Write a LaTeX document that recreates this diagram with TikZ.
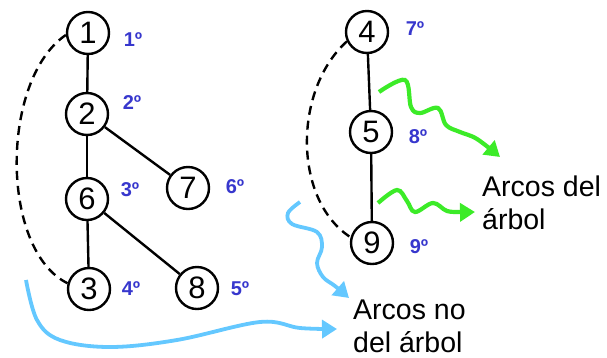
\documentclass[tikz,border=0pt]{standalone}
\usepackage{fontspec}
\setmainfont{Liberation Sans}
\usetikzlibrary{arrows.meta}
\definecolor{ordblue}{RGB}{55,55,205}
\definecolor{arcgreen}{RGB}{60,235,40}
\definecolor{arcblue}{RGB}{100,200,255}
\begin{document}
\begin{tikzpicture}[x=1pt,y=-1pt,
  vert/.style={circle,draw=black,line width=2.4pt,minimum size=42pt,inner sep=0pt,font=\fontsize{31}{31}\selectfont},
  ord/.style={text=ordblue,font=\fontsize{20}{20}\selectfont\bfseries,inner sep=0pt},
  tree/.style={line width=2.4pt},
  back/.style={line width=2.4pt,dash pattern=on 9pt off 6pt},
  greenarr/.style={draw=arcgreen,line width=4.2pt,-{Triangle[length=15pt,width=18pt]}},
  bluearr/.style={draw=arcblue,line width=3.8pt,-{Triangle[length=15pt,width=18pt]}},
  lbl/.style={align=left,anchor=west,inner sep=0pt,font=\fontsize{28.5}{33}\selectfont}]
\useasboundingbox (0,0) rectangle (607,357);
% vertices
\node[vert] (n1) at (88,33) {1};
\node[vert] (n2) at (87,114) {2};
\node[vert] (n6) at (87,199) {6};
\node[vert] (n7) at (188,188) {7};
\node[vert] (n3) at (89,289) {3};
\node[vert] (n8) at (197,288) {8};
\node[vert] (n4) at (367,32) {4};
\node[vert] (n5) at (371,132) {5};
\node[vert] (n9) at (372,243) {9};
% order labels
\node[ord] (o1) at (133,40) {1º};
\node[ord] (o2) at (132,103) {2º};
\node[ord] (o3) at (130,190) {3º};
\node[ord] (o6) at (235,187) {6º};
\node[ord] (o4) at (131,289) {4º};
\node[ord] (o5) at (240,289) {5º};
\node[ord] (o7) at (415,29) {7º};
\node[ord] (o8) at (418,137) {8º};
\node[ord] (o9) at (419,247) {9º};
% tree edges
\draw[tree] (n1) -- (n2);
\draw[tree] (n2) -- (n6);
\draw[tree] (n2) -- (n7);
\draw[tree] (n6) -- (n3);
\draw[tree] (n6) -- (n8);
\draw[tree] (n4) -- (n5);
\draw[tree] (n5) -- (n9);
% back edges
\draw[back] (n1.185) .. controls (0,80) and (0,250) .. (n3.165);
\draw[back] (n4.205) .. controls (293,90) and (293,200) .. (n9.165);
% texts
\node[lbl] (t1) at (482,203) {Arcos del\\árbol};
\node[lbl] (t2) at (353,326) {Arcos no\\del árbol};
% green arrows
\draw[greenarr] plot[smooth,tension=0.6] coordinates {(379,92) (405,80) (411,107) (420,113) (438,108) (446,125) (460,132) (477,139) (500,157)};
\draw[greenarr] plot[smooth,tension=0.6] coordinates {(378,203) (397,190) (407,201) (415,212) (433,203) (447,211) (462,212) (475,212)};
% blue arrows
\draw[bluearr] plot[smooth,tension=0.6] coordinates {(300,202) (288,213) (292,224) (317,232) (322,247) (317,263) (323,277) (335,286) (349,298)};
\draw[bluearr] plot[smooth,tension=0.6] coordinates {(26,280) (37,320) (60,340) (110,347) (177,340) (260,322) (300,328) (337,329)};
\end{tikzpicture}
\end{document}
